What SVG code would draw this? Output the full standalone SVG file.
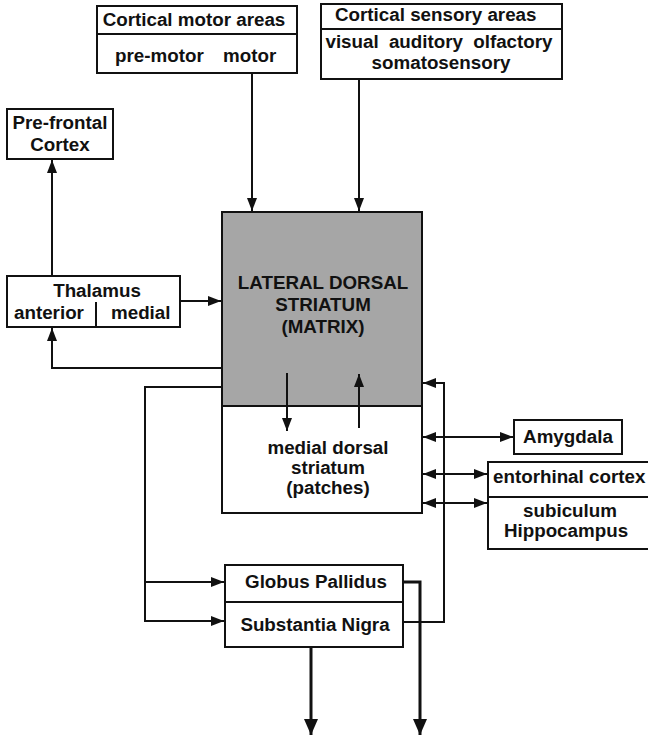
<svg xmlns="http://www.w3.org/2000/svg" width="648" height="738" viewBox="0 0 648 738">
<style>
.box{fill:#fff;stroke:#111;stroke-width:2}
.gray{fill:#a6a6a6;stroke:#111;stroke-width:2}
.div{stroke:#111;stroke-width:2;fill:none}
.t{font-family:"Liberation Sans",Arial,sans-serif;font-weight:bold;font-size:18.8px;fill:#111;text-anchor:middle}
.s{text-anchor:start}
.c{fill:none;stroke:#111;stroke-width:2}
.thick{fill:none;stroke:#111;stroke-width:3}
</style>
<defs>
<marker id="ah" markerUnits="userSpaceOnUse" markerWidth="13" markerHeight="10" viewBox="0 0 13 10" refX="13" refY="5" orient="auto-start-reverse">
<path d="M0,0 L13,5 L0,10 Z" fill="#111"/>
</marker>
<marker id="big" markerUnits="userSpaceOnUse" markerWidth="16" markerHeight="14" viewBox="0 0 16 14" refX="16" refY="7" orient="auto">
<path d="M0,0 L16,7 L0,14 Z" fill="#111"/>
</marker>
</defs>
<rect width="648" height="738" fill="#fff"/>

<g id="motor">
<rect class="box" x="97" y="6" width="200" height="67"/>
<line class="div" x1="97" y1="34" x2="297" y2="34"/>
<text class="t" x="194" y="26">Cortical motor areas</text>
<text class="t s" x="115" y="62">pre-motor</text>
<text class="t s" x="223" y="62">motor</text>
</g>

<g id="sensory">
<rect class="box" x="321" y="4" width="241" height="75"/>
<line class="div" x1="321" y1="29" x2="562" y2="29"/>
<text class="t s" x="335" y="21">Cortical sensory areas</text>
<text class="t" x="439" y="48" word-spacing="5">visual auditory olfactory</text>
<text class="t" x="441" y="69">somatosensory</text>
</g>

<g id="prefrontal">
<rect class="box" x="7" y="109" width="106" height="50"/>
<text class="t" x="60" y="129">Pre-frontal</text>
<text class="t" x="60" y="151">Cortex</text>
</g>

<g id="thalamus">
<rect class="box" x="7" y="276" width="173" height="51"/>
<line class="div" x1="96" y1="302" x2="96" y2="327"/>
<text class="t" x="97" y="297">Thalamus</text>
<text class="t s" x="14" y="319">anterior</text>
<text class="t s" x="111" y="319">medial</text>
</g>

<g id="striatum">
<rect class="gray" x="222" y="212" width="200" height="194"/>
<rect class="box" x="222" y="406" width="200" height="107"/>
<text class="t" x="323" y="289">LATERAL DORSAL</text>
<text class="t" x="323" y="311">STRIATUM</text>
<text class="t" x="323" y="333">(MATRIX)</text>
<text class="t" x="328" y="454">medial dorsal</text>
<text class="t" x="328" y="474">striatum</text>
<text class="t" x="328" y="494">(patches)</text>
</g>

<g id="amygdala">
<rect class="box" x="514" y="420" width="108" height="34"/>
<text class="t" x="568" y="443">Amygdala</text>
</g>

<g id="hippocampal">
<rect class="box" x="488" y="462" width="164" height="87"/>
<line class="div" x1="488" y1="497" x2="652" y2="497"/>
<text class="t s" x="493" y="483">entorhinal cortex</text>
<text class="t" x="570" y="517">subiculum</text>
<text class="t" x="566" y="537">Hippocampus</text>
</g>

<g id="basal">
<rect class="box" x="225" y="565" width="178" height="82"/>
<line class="div" x1="225" y1="602" x2="403" y2="602"/>
<text class="t" x="316" y="588">Globus Pallidus</text>
<text class="t" x="315" y="631">Substantia Nigra</text>
</g>

<g id="connectors">
<line class="c" x1="252" y1="73" x2="252" y2="211" marker-end="url(#ah)"/>
<line class="c" x1="359" y1="79" x2="359" y2="211" marker-end="url(#ah)"/>
<line class="c" x1="52" y1="276" x2="52" y2="160" marker-end="url(#ah)"/>
<line class="c" x1="180" y1="301" x2="221" y2="301" marker-end="url(#ah)"/>
<polyline class="c" points="222,368 52,368 52,328" marker-end="url(#ah)"/>
<polyline class="c" points="222,387 145,387 145,621 224,621" marker-end="url(#ah)"/>
<polyline class="c" points="145,582 224,582" marker-end="url(#ah)"/>
<line class="c" x1="287" y1="373" x2="287" y2="431" marker-end="url(#ah)"/>
<line class="c" x1="359" y1="428" x2="359" y2="374" marker-end="url(#ah)"/>
<polyline class="c" points="403,622 444,622 444,383 423,383" marker-end="url(#ah)"/>
<line class="c" x1="423" y1="437" x2="513" y2="437" marker-start="url(#ah)" marker-end="url(#ah)"/>
<line class="c" x1="423" y1="474" x2="487" y2="474" marker-start="url(#ah)" marker-end="url(#ah)"/>
<line class="c" x1="423" y1="503" x2="487" y2="503" marker-start="url(#ah)" marker-end="url(#ah)"/>
<polyline class="thick" points="403,582 420,582 420,735" marker-end="url(#big)"/>
<line class="thick" x1="311" y1="647" x2="311" y2="735" marker-end="url(#big)"/>
</g>
</svg>
